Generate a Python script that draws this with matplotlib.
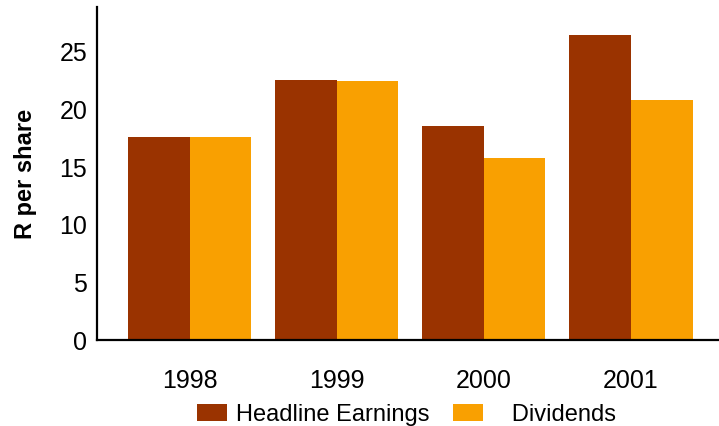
import matplotlib.pyplot as plt
import numpy as np

# data
years = ['1998', '1999', '2000', '2001']
headline_earnings = [17.6, 22.6, 18.6, 26.5]
dividends = [17.6, 22.5, 15.8, 20.8]

plt.rcParams['font.family'] = ['Liberation Sans', 'DejaVu Sans']

fig = plt.figure(figsize=(7.19, 4.26), dpi=100)
ax = fig.add_axes([97 / 719, 86 / 426, 1 - 97 / 719, (340 - 7) / 426])

x = np.arange(len(years))
w = 0.42
ax.bar(x - w / 2, headline_earnings, w, color='#9A3300', label='Headline Earnings')
ax.bar(x + w / 2, dividends, w, color='#F9A001', label='   Dividends')

ax.set_xlim(-0.63, 3.6)
ax.set_ylim(0, 28.9)
ax.set_yticks([0, 5, 10, 15, 20, 25])
ax.set_xticks(x)
ax.set_xticklabels(years)
ax.tick_params(axis='both', length=0, labelsize=18)
ax.tick_params(axis='y', pad=7)
ax.tick_params(axis='x', pad=21)

ax.spines['top'].set_visible(False)
ax.spines['right'].set_visible(False)
ax.spines['left'].set_linewidth(1.6)
ax.spines['bottom'].set_linewidth(1.6)

ax.set_ylabel('R per share', fontsize=17, fontweight='bold', labelpad=16)

fig.legend(loc='center left', bbox_to_anchor=(197 / 719, 1 - 415 / 426),
           ncol=2, frameon=False, fontsize=17, borderpad=0, borderaxespad=0,
           handlelength=1.27, handleheight=0.76, handletextpad=0.38,
           columnspacing=1.0)

fig.savefig('out.png', dpi=100)
